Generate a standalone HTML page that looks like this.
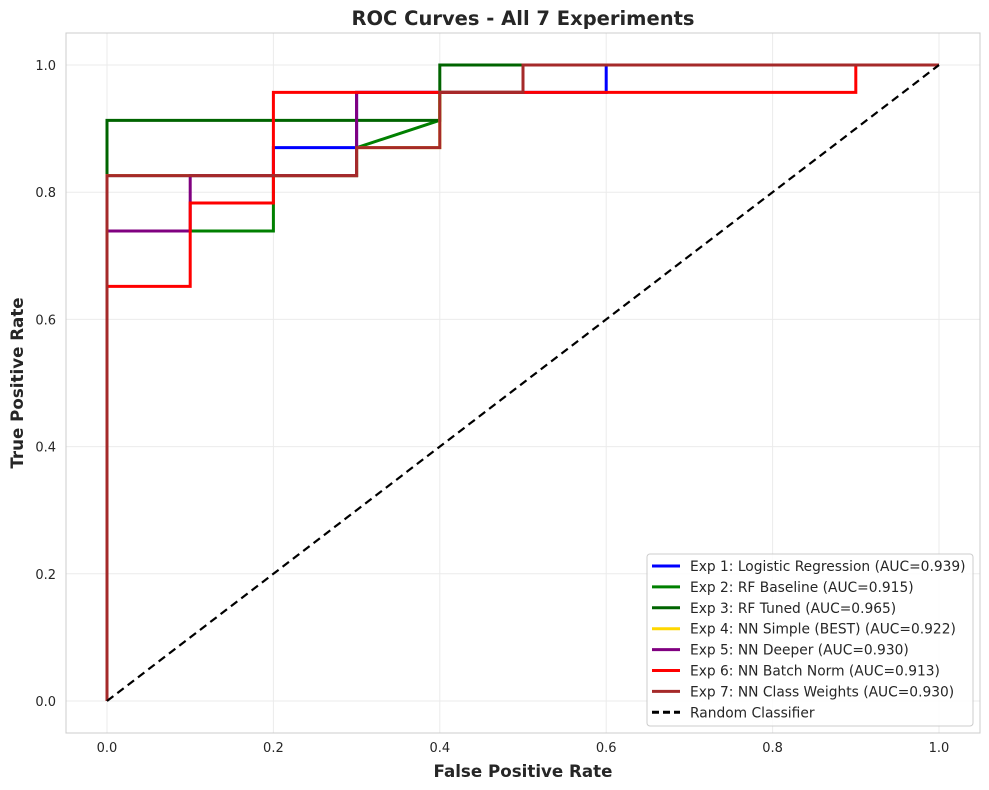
<!DOCTYPE html>
<html><head><meta charset="utf-8"><style>
body{margin:0;background:#fff;}
svg{display:block;font-family:"DejaVu Sans","Liberation Sans",sans-serif;}
</style></head><body>
<svg id="chart" width="989" height="790" viewBox="0 0 989 790" xmlns="http://www.w3.org/2000/svg">
<rect width="989" height="790" fill="#fff"/>
<g id="grid"></g>
<rect x="66" y="33" width="914" height="700" fill="none" stroke="#cccccc" stroke-width="1"/>
<g id="ticks"></g>
<g id="series"></g>
<text x="523" y="25" text-anchor="middle" font-size="19.5" font-weight="bold" fill="#262626">ROC Curves - All 7 Experiments</text>
<text x="523" y="777" text-anchor="middle" font-size="16.7" font-weight="bold" fill="#262626">False Positive Rate</text>
<text transform="translate(23,383) rotate(-90)" text-anchor="middle" font-size="16.7" font-weight="bold" fill="#262626">True Positive Rate</text>
<g id="legend"></g>
</svg>
<script>
const ticks=[0,0.2,0.4,0.6,0.8,1.0];
const tickLabels=["0.0","0.2","0.4","0.6","0.8","1.0"];
const names=["Exp 1: Logistic Regression (AUC=0.939)","Exp 2: RF Baseline (AUC=0.915)","Exp 3: RF Tuned (AUC=0.965)","Exp 4: NN Simple (BEST) (AUC=0.922)","Exp 5: NN Deeper (AUC=0.930)","Exp 6: NN Batch Norm (AUC=0.913)","Exp 7: NN Class Weights (AUC=0.930)"];
const colors=["#0000ff","#008000","#006400","#ffd700","#800080","#ff0000","#a52a2a"];
const fpr1=[0,0,0.2,0.2,0.3,0.3,0.6,0.6,1];
const tpr1=[0,0.826,0.826,0.870,0.870,0.957,0.957,1,1];
const fpr2=[0,0,0.2,0.2,0.3,0.3,0.4,0.4,0.5,0.5,1];
const tpr2=[0,0.739,0.739,0.826,0.826,0.870,0.913,0.957,0.957,1,1];
const fpr3=[0,0,0.4,0.4,1];
const tpr3=[0,0.913,0.913,1,1];
const fpr4=[0,0,0.3,0.3,0.4,0.4,0.5,0.5,1];
const tpr4=[0,0.826,0.826,0.870,0.870,0.957,0.957,1,1];
const fpr5=[0,0,0.1,0.1,0.3,0.3,0.5,0.5,1];
const tpr5=[0,0.739,0.739,0.826,0.826,0.957,0.957,1,1];
const fpr6=[0,0,0.1,0.1,0.2,0.2,0.9,0.9,1];
const tpr6=[0,0.652,0.652,0.783,0.783,0.957,0.957,1,1];
const fpr7=[0,0,0.3,0.3,0.4,0.4,0.5,0.5,1];
const tpr7=[0,0.826,0.826,0.870,0.870,0.957,0.957,1,1];
const allF=[fpr1,fpr2,fpr3,fpr4,fpr5,fpr6,fpr7];
const allT=[tpr1,tpr2,tpr3,tpr4,tpr5,tpr6,tpr7];
const NS="http://www.w3.org/2000/svg";
const X=v=>107+v*832, Y=v=>701-v*636;
function mk(t,a,p){const e=document.createElementNS(NS,t);for(const k in a)e.setAttribute(k,a[k]);p.appendChild(e);return e;}
const grid=document.getElementById('grid'),tk=document.getElementById('ticks'),ser=document.getElementById('series'),lg=document.getElementById('legend');
ticks.forEach((t,i)=>{
 let g=mk('line',{x1:X(t),x2:X(t),y1:33,y2:733,stroke:'#ebebeb','stroke-width':1},grid);
 
 
 g=mk('line',{x1:66,x2:980,y1:Y(t),y2:Y(t),stroke:'#ebebeb','stroke-width':1},grid);
 
 
 let a=mk('text',{x:X(t),y:752,'text-anchor':'middle','font-size':13,fill:'#262626'},tk);a.textContent=tickLabels[i];
 
 
 let b=mk('text',{x:56,y:Y(t)+5,'text-anchor':'end','font-size':13,fill:'#262626'},tk);b.textContent=tickLabels[i];
 
 
});
allF.forEach((f,i)=>{
 const pts=f.map((v,j)=>X(v)+','+Y(allT[i][j])).join(' ');
 const p=mk('polyline',{points:pts,fill:'none',stroke:colors[i],'stroke-width':3,'stroke-linejoin':'miter'},ser);
 
 
});
const d=mk('line',{x1:X(0),y1:Y(0),x2:X(1),y2:Y(1),stroke:'#000','stroke-width':2.2,'stroke-dasharray':'8,5'},ser);


const box=mk('rect',{x:647,y:554,width:326,height:172,rx:3,fill:'#fff','fill-opacity':0.85,stroke:'#cccccc'},lg);


const labels=names.concat(["Random Classifier"]);
labels.forEach((n,i)=>{
 const y=566+i*20.9;
 const l=mk('line',{x1:652,x2:680,y1:y,y2:y,stroke:i<7?colors[i]:'#000','stroke-width':3},lg);
 if(i==7)l.setAttribute('stroke-dasharray','7,4');
 
 
 const t=mk('text',{x:690,y:y+5,'font-size':13.8,fill:'#262626'},lg);t.textContent=n;
 
 
});
</script>
</body></html>
